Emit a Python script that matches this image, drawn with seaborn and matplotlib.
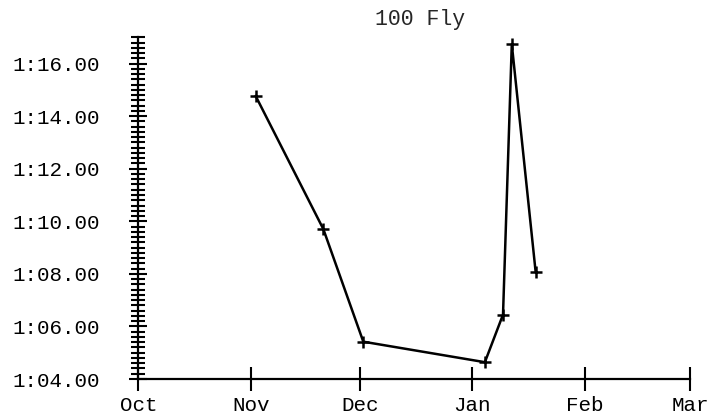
import pandas as pd
import matplotlib
matplotlib.use("Agg")
import matplotlib.pyplot as plt
from matplotlib.ticker import MultipleLocator, FuncFormatter
import seaborn as sns

# swim dates and times (seconds) for 100 Fly
swim_dates = ["2019-11-02 08:00", "2019-11-21 00:00", "2019-12-02 00:00", "2020-01-04 12:00",
              "2020-01-09 12:00", "2020-01-11 22:00", "2020-01-18 12:00"]
swim_times = [74.77, 69.70, 65.42, 64.64, 66.45, 76.74, 68.06]
month_ticks = ["2019-10-01", "2019-11-01", "2019-12-01", "2020-01-01", "2020-02-01", "2020-03-01"]
month_labels = ["Oct", "Nov", "Dec", "Jan", "Feb", "Mar"]

df = pd.DataFrame({"date": pd.to_datetime(swim_dates, format="%Y-%m-%d %H:%M"), "time": swim_times})

sns.set_style("ticks")
plt.rcParams["font.family"] = ["Liberation Mono", "DejaVu Sans Mono"]

fig = plt.figure(figsize=(7.27, 4.17), dpi=100)
ax = fig.add_axes([0.1902, 0.0911, 0.7588, 0.8195])

sns.lineplot(data=df, x="date", y="time", ax=ax, color="black", linewidth=1.8,
             marker="+", markersize=8.5, markeredgewidth=1.8, markeredgecolor="black")

ticks = pd.to_datetime(month_ticks)
ax.set_xlim(ticks[0], ticks[-1])
ax.set_ylim(64, 77)
ax.set_xticks(ticks)
ax.set_xticklabels(month_labels)

ax.yaxis.set_major_locator(MultipleLocator(2))
ax.yaxis.set_minor_locator(MultipleLocator(0.2))
ax.yaxis.set_major_formatter(FuncFormatter(lambda v, p: f"{int(v // 60)}:{v % 60:05.2f}"))

for s in ["top", "right"]:
    ax.spines[s].set_visible(False)
for s in ["left", "bottom"]:
    ax.spines[s].set_linewidth(1.6)
    ax.spines[s].set_color("black")

ax.tick_params(axis="y", which="major", direction="inout", length=13, width=1.5,
               pad=21, labelsize=15, colors="black")
ax.tick_params(axis="y", which="minor", direction="inout", length=10, width=1.5, colors="black")
ax.tick_params(axis="x", which="major", direction="inout", length=17, width=1.5,
               pad=4, labelsize=15, colors="black")

ax.set_xlabel("")
ax.set_ylabel("")
ax.set_title("100 Fly", fontsize=15.5, pad=9, x=0.511)

fig.savefig("out.png", dpi=100)
